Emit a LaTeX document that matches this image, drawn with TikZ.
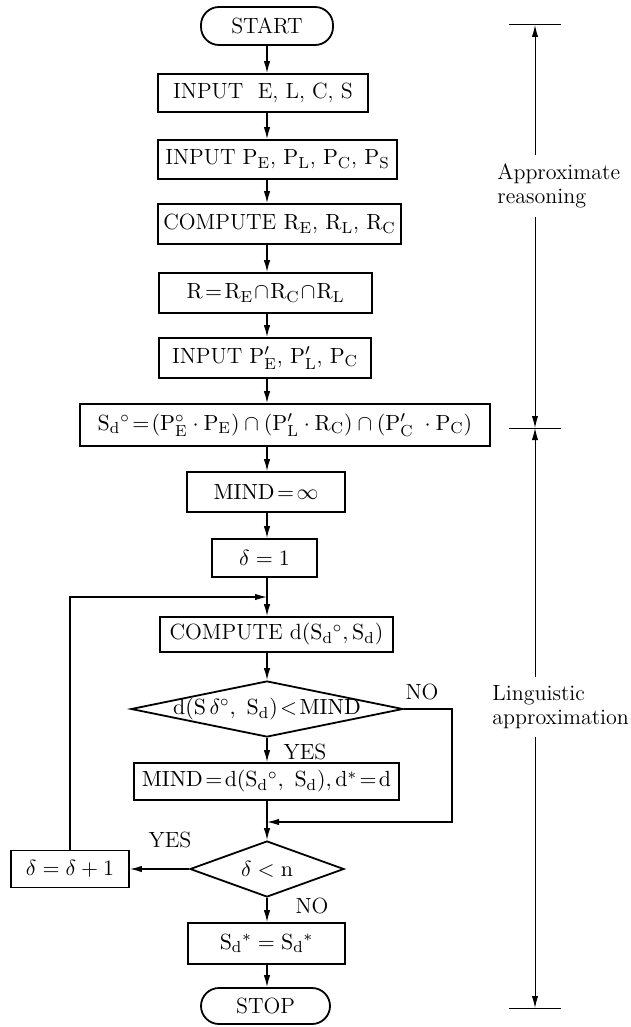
\documentclass[tikz,border=0pt]{standalone}
\usetikzlibrary{shapes.geometric,arrows.meta}

\newcommand{\sub}[2]{$\mathrm{#1}_{\mathrm{#2}}$}

\tikzset{
  box/.style={draw, line width=0.9pt, inner sep=2pt},
  term/.style={draw, line width=0.9pt, rounded corners=9pt, minimum height=19pt},
  decision/.style={draw, diamond, line width=0.9pt, aspect=2.7, inner sep=1pt},
  flow/.style={->, >={Latex[length=6pt,width=3.2pt]}, line width=0.6pt},
  ruler/.style={line width=0.5pt},
  note/.style={anchor=west, align=left, inner xsep=0pt, inner ysep=4pt}
}

\begin{document}
\begin{tikzpicture}[x=0.5pt, y=-0.5pt, font=\fontsize{11}{12}\selectfont]
\useasboundingbox (0,0) rectangle (631,1027);

% Flow chart
\coordinate (spine) at (267,0);

\node[term, minimum width=66pt] (start) at (267,26) {START};
\node[box, minimum width=105pt, minimum height=19pt] (inEL) at (263,93) {INPUT\ \ E, L, C, S};
\node[box, minimum width=119.5pt, minimum height=19.5pt] (inP) at (277.5,159.5) {INPUT \sub{P}{E}, \sub{P}{L}, \sub{P}{C}, \sub{P}{S}};
\node[box, minimum width=121.5pt, minimum height=20pt] (compR) at (279.5,224) {COMPUTE \sub{R}{E}, \sub{R}{L}, \sub{R}{C}};
\node[box, minimum width=106.5pt, minimum height=20pt] (rbox) at (265.5,293) {$\mathrm{R\!=\!R_E\!\cap\! R_C\!\cap\! R_L}$};
\node[box, minimum width=106pt, minimum height=20pt] (inPp) at (265,358) {INPUT $\mathrm{P'_E}$, $\mathrm{P'_L}$, \sub{P}{C}};
\node[box, minimum width=205pt, minimum height=21pt] (sd) at (285,425)
  {$\mathrm{S_d}{}^\circ\!=\!(\mathrm{P}_{\mathrm{E}}^{\circ}\cdot\mathrm{P_E})\cap(\mathrm{P'_L}\cdot\mathrm{R_C})\cap(\mathrm{P'_C}\;\cdot\mathrm{P_C})$};
\node[box, minimum width=79pt, minimum height=20pt] (mind) at (266,492) {$\mathrm{MIND}\!=\!\infty$};
\node[box, minimum width=52.5pt, minimum height=19pt] (delta1) at (264.5,558) {$\delta=1$};
\node[box, minimum width=116.5pt, minimum height=17.5pt] (compD) at (276.5,634.5) {COMPUTE d$(\mathrm{S_d}{}^\circ,\mathrm{S_d})$};
\node[decision, minimum width=136pt, minimum height=28pt,
  label=center:{$\mathrm{d}(\mathrm{S}\,\delta^\circ,\ \mathrm{S_d})\!<\!\mathrm{MIND}$}] (dec1) at (267,709) {};
\node[box, minimum width=132.5pt, minimum height=18.5pt] (mindd) at (266.5,781.5)
  {$\mathrm{MIND}\!=\!\mathrm{d}(\mathrm{S_d}{}^\circ,\ \mathrm{S_d}),\mathrm{d}^*\!=\!\mathrm{d}$};
\node[decision, minimum width=77pt, minimum height=28pt] (dec2) at (267,869) {$\delta<\mathrm{n}$};
\node[box, minimum width=59pt, minimum height=18.5pt] (inc) at (70,869) {$\delta=\delta+1$};
\node[box, minimum width=78.5pt, minimum height=20.5pt] (sdstar) at (266.5,943.5) {$\mathrm{S_d}{}^*=\mathrm{S_d}{}^*$};
\node[term, minimum width=64.5pt, minimum height=18pt] (stop) at (265.5,1006) {STOP};

\node (yes1) at (305,752) {YES};
\node (no1) at (422,692) {NO};
\node (yes2) at (170,840) {YES};
\node (no2) at (312,906) {NO};

\coordinate (join1) at (267,597);
\coordinate (join2) at (267,822);
\coordinate (noR) at (452,822);

\foreach \a/\b in {start/inEL, inEL/inP, inP/compR, compR/rbox, rbox/inPp,
                   inPp/sd, sd/mind, mind/delta1, delta1/compD, compD/dec1,
                   dec1/mindd, mindd/dec2, dec2/sdstar, sdstar/stop}
  \draw[flow] (\a.south -| spine) -- (\b.north -| spine);

\draw[flow] (dec1.east) -| (noR) -- (join2);
\draw[flow] (dec2.west) -- (inc.east);
\draw[flow] (inc.north) |- (join1);

% Ruler
\coordinate (r1) at (535,25);
\coordinate (r2) at (535,428);
\coordinate (r3) at (535,1008);
\foreach \r in {r1,r2,r3}
  \draw[ruler] ([xshift=-13pt]\r) -- ([xshift=13pt]\r);

\node[note] (lab1) at (497,186) {Approximate\\reasoning};
\node[note] (lab2) at (492,707) {Linguistic\\approximation};

\draw[flow, ruler] (lab1.north -| r1) -- (r1);
\draw[flow, ruler] (lab1.south -| r1) -- (r2);
\draw[flow, ruler] (lab2.north -| r1) -- (r2);
\draw[flow, ruler] (lab2.south -| r1) -- (r3);

\end{tikzpicture}
\end{document}
